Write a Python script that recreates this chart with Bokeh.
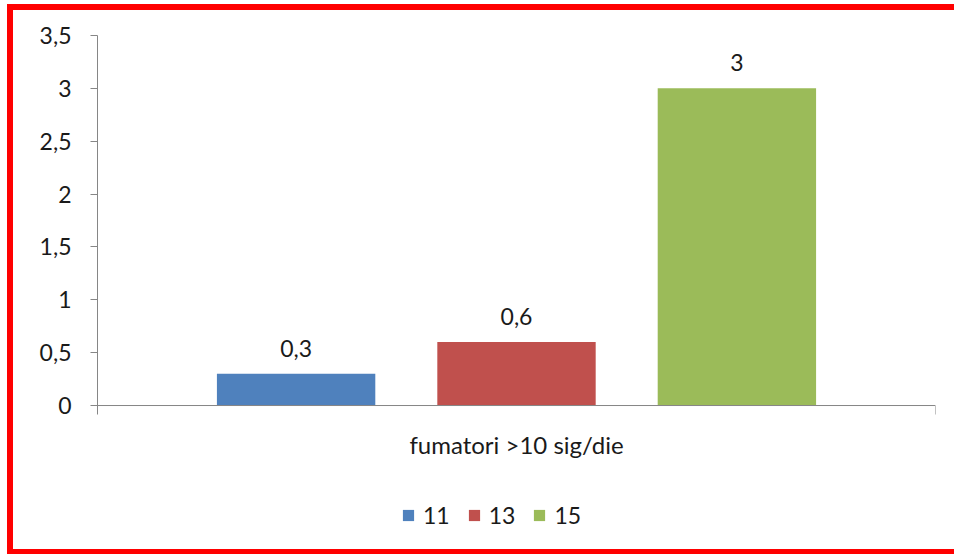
from bokeh.plotting import figure
from bokeh.models import (Range1d, FactorRange, ColumnDataSource, Legend,
                          LegendItem, LabelSet, Span)
from bokeh.transform import dodge
from bokeh.core.properties import value
from bokeh.embed import file_html
from bokeh.resources import INLINE

# ---- data ----
category = ["fumatori >10 sig/die"]
series_names = ["11", "13", "15"]
series_values = [0.3, 0.6, 3.0]
series_labels = ["0,3", "0,6", "3"]
series_colors = ["#4F81BD", "#C0504D", "#9BBB59"]
y_ticks = [0, 0.5, 1, 1.5, 2, 2.5, 3, 3.5]
y_tick_labels = ["0", "0,5", "1", "1,5", "2", "2,5", "3", "3,5"]

FONT = "Lato"
TEXT = "#1a1a1a"
AXIS = "#868686"
offsets = [-0.263, 0.0, 0.263]
bar_w = 0.189
Y_MAX = 3.5
Y_MIN = -1.466   # extra room below the axis for the category label and legend

p = figure(width=961, height=550, x_range=FactorRange(*category),
           y_range=Range1d(Y_MIN, Y_MAX), output_backend="svg",
           toolbar_location=None, x_axis_location=None,
           min_border_left=84, min_border_top=25, min_border_right=39,
           min_border_bottom=0)
p.styles = {"margin-left": "7px", "margin-top": "4px",
            "border-left": "6px solid #ff0000", "border-top": "6px solid #ff0000",
            "border-bottom": "5px solid #ff0000", "border-right": "0px none"}
p.outline_line_color = None
p.xgrid.grid_line_color = None
p.ygrid.grid_line_color = None
p.background_fill_color = "white"
p.border_fill_color = "white"

items = []
for i, name in enumerate(series_names):
    src = ColumnDataSource(dict(cat=[category[0]], val=[series_values[i]],
                                lab=[series_labels[i]]))
    r = p.vbar(x=dodge("cat", offsets[i], range=p.x_range), top="val",
               width=bar_w, source=src, fill_color=series_colors[i],
               line_color=None)
    labels = LabelSet(x=dodge("cat", offsets[i], range=p.x_range), y="val",
                      text="lab", source=src, y_offset=17, text_align="center",
                      text_baseline="bottom", text_font=value(FONT),
                      text_font_size="23px", text_color=TEXT)
    p.add_layout(labels)
    items.append(LegendItem(label=name, renderers=[r]))

# category axis: baseline at 0, end tick and category label
p.add_layout(Span(location=0, dimension="width", line_color=AXIS, line_width=1))
cat_src = ColumnDataSource(dict(cat=category, y=[0] * len(category)))
p.segment(x0=dodge("cat", 0.5, range=p.x_range), y0="y",
          x1=dodge("cat", 0.5, range=p.x_range), y1=-0.085,
          source=cat_src, line_color=AXIS, line_width=1)
p.add_layout(LabelSet(x="cat", y="y", text="cat", source=cat_src, y_offset=-24,
                      text_align="center", text_baseline="top",
                      text_font=value(FONT), text_font_size="24px",
                      text_color=TEXT))

# y axis
p.yaxis.bounds = (-0.085, Y_MAX)
p.yaxis.ticker = y_ticks
p.yaxis.major_label_overrides = {t: l for t, l in zip(y_ticks, y_tick_labels)}
p.yaxis.axis_line_color = AXIS
p.yaxis.major_tick_line_color = AXIS
p.yaxis.major_tick_out = 7
p.yaxis.major_tick_in = 0
p.yaxis.minor_tick_line_color = None
p.yaxis.major_label_text_font = FONT
p.yaxis.major_label_text_font_size = "23px"
p.yaxis.major_label_text_color = TEXT
p.yaxis.major_label_standoff = 19

legend = Legend(items=items, location=(304, 31), orientation="horizontal",
                glyph_width=14, glyph_height=14, label_standoff=8, spacing=17,
                padding=4, margin=0, border_line_color=None,
                background_fill_alpha=0, label_text_font=FONT,
                label_text_font_size="23px", label_text_color=TEXT,
                label_width=25)
p.add_layout(legend)

open("out.html", "w").write(file_html(p, INLINE))
